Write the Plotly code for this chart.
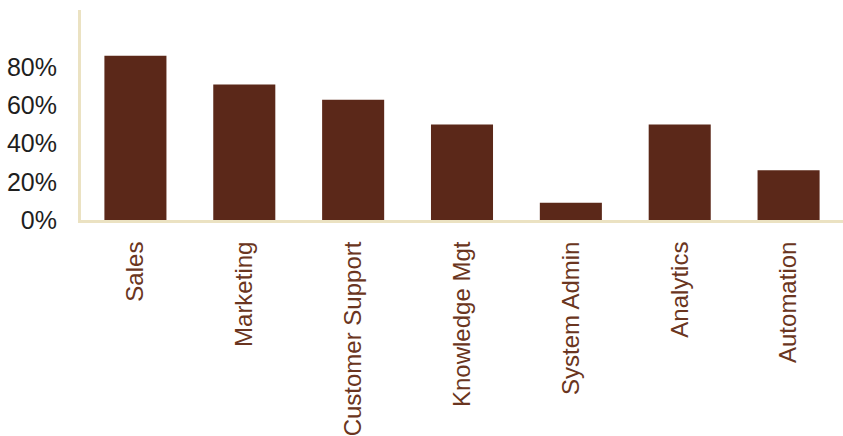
import plotly.graph_objects as go

categories = ["Sales", "Marketing", "Customer Support", "Knowledge Mgt",
              "System Admin", "Analytics", "Automation"]
values = [86, 71, 63, 50, 9, 50, 26]
y_tick_vals = [0, 20, 40, 60, 80]
y_tick_text = ["0%", "20%", "40%", "60%", "80%"]

bar_color = "#5b2819"
axis_color = "#ebe2c2"

fig = go.Figure(
    go.Bar(x=categories, y=values, marker=dict(color=bar_color, line=dict(width=0)))
)

fig.update_layout(
    width=843, height=436,
    margin=dict(l=81, r=0, t=10, b=214),
    paper_bgcolor="white", plot_bgcolor="white",
    bargap=0.43,
    showlegend=False,
)

fig.update_xaxes(
    showline=True, linecolor=axis_color, linewidth=3,
    showgrid=False, zeroline=False,
    tickangle=-90, ticks="",
    ticklabelstandoff=9,
    tickfont=dict(family="Liberation Sans, Arial, sans-serif", size=24, color="#6a3520"),
)

fig.update_yaxes(
    range=[0, 110],
    showline=True, linecolor=axis_color, linewidth=3,
    showgrid=False, zeroline=False,
    tickvals=y_tick_vals, ticktext=y_tick_text, ticks="",
    ticklabelstandoff=16,
    tickfont=dict(family="Liberation Sans, Arial, sans-serif", size=25, color="#1e1e1e"),
)

fig.write_html("out.html")
